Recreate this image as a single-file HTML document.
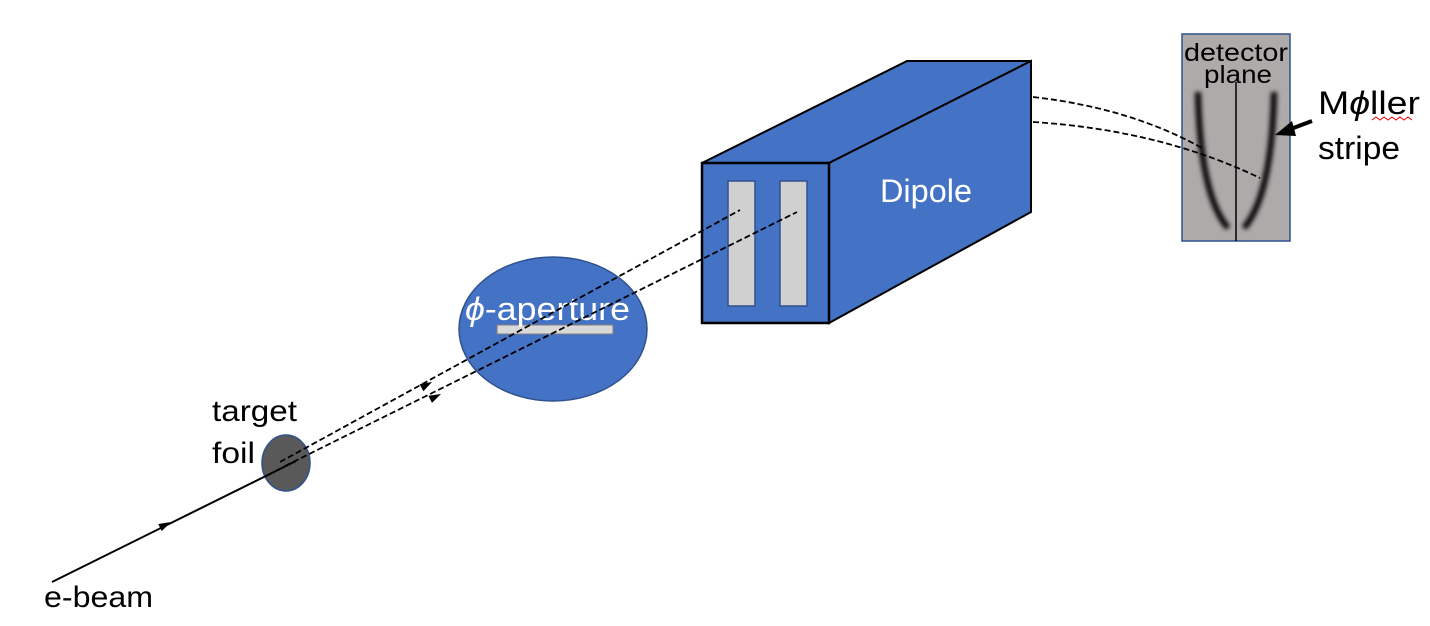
<!DOCTYPE html>
<html><head><meta charset="utf-8"><style>
html,body{margin:0;padding:0;background:#fff;}
svg{display:block;font-family:"Liberation Sans","DejaVu Sans",sans-serif;}
</style></head><body>
<svg width="1430" height="626" viewBox="0 0 1430 626">
<defs>
<filter id="blur" x="-50%" y="-20%" width="200%" height="140%"><feGaussianBlur stdDeviation="2.5"/></filter>
<clipPath id="detclip"><rect x="1182" y="34" width="108" height="207"/></clipPath>
</defs>

<!-- target foil -->
<ellipse cx="286" cy="463" rx="24" ry="28" fill="#595959" stroke="#2f528f" stroke-width="1.5"/>
<text x="212" y="421" font-size="30" fill="#000" textLength="85" lengthAdjust="spacingAndGlyphs">target</text>
<text x="212" y="463" font-size="30" fill="#000" textLength="43" lengthAdjust="spacingAndGlyphs">foil</text>

<!-- e-beam -->
<g>
<line x1="52" y1="582" x2="296" y2="461" stroke="#000" stroke-width="2"/>
<path d="M171,522 L161.8,531 L158.2,524 z" fill="#000"/>
</g>
<text x="44" y="607" font-size="30" fill="#000" textLength="109" lengthAdjust="spacingAndGlyphs">e-beam</text>

<!-- phi aperture -->
<ellipse cx="553" cy="329" rx="94" ry="72" fill="#4472c4" stroke="#2f528f" stroke-width="1.5"/>
<rect x="497" y="325" width="116" height="9" fill="#d9d9d9" stroke="#7f7f7f" stroke-width="1"/>
<text x="465" y="320" font-size="32" fill="#fff" textLength="165" lengthAdjust="spacingAndGlyphs"><tspan font-style="italic">ϕ</tspan>-aperture</text>

<!-- dipole -->
<g>
<polygon points="702,163 907,61 1031,61 829,163" fill="#4472c4" stroke="#000" stroke-width="2"/>
<polygon points="829,163 1031,61 1031,212 829,323" fill="#4472c4" stroke="#000" stroke-width="2"/>
<rect x="702" y="163" width="127" height="160" fill="#4472c4" stroke="#000" stroke-width="2.5"/>
<rect x="728" y="181" width="27" height="125" fill="#d0d0d0" stroke="#2f528f" stroke-width="1.5"/>
<rect x="780" y="181" width="27" height="125" fill="#d0d0d0" stroke="#2f528f" stroke-width="1.5"/>
</g>
<text x="880" y="202" font-size="32" fill="#fff" textLength="92" lengthAdjust="spacingAndGlyphs">Dipole</text>

<!-- detector -->
<g>
<rect x="1182" y="34" width="108" height="207" fill="#aeaaaa" stroke="#2f528f" stroke-width="1.5"/>
<g clip-path="url(#detclip)">
<path d="M1198,92 Q1200,195 1228,228" stroke="#000" stroke-width="6" fill="none" filter="url(#blur)"/>
<path d="M1274,92 Q1272,195 1244,228" stroke="#000" stroke-width="6" fill="none" filter="url(#blur)"/>
</g>
<line x1="1236" y1="82" x2="1236" y2="241" stroke="#000" stroke-width="1.5"/>
</g>
<text x="1236" y="61" font-size="25" text-anchor="middle" fill="#000" textLength="104" lengthAdjust="spacingAndGlyphs">detector</text>
<text x="1238" y="83" font-size="25" text-anchor="middle" fill="#000" textLength="68" lengthAdjust="spacingAndGlyphs">plane</text>

<!-- scattered trajectories -->
<g stroke="#000" stroke-width="1.8" stroke-dasharray="6,3" fill="none">
<line x1="280" y1="462" x2="740" y2="210"/>
<line x1="285" y1="466" x2="797" y2="212"/>
<path d="M1033,97 Q1130,108 1202,148"/>
<path d="M1033,122 Q1160,130 1260,178"/>
</g>
<path d="M432,382 L423.4,391.3 L419.6,384.3 z" fill="#000"/>
<path d="M441,394 L432,402.9 L428.4,395.7 z" fill="#000"/>

<text x="1318" y="114" font-size="32" fill="#000" textLength="102" lengthAdjust="spacingAndGlyphs">M<tspan font-style="italic">ϕ</tspan>ller</text>
<path d="M1372,120 l4,-3 l4,3 l4,-3 l4,3 l4,-3 l4,3 l4,-3 l4,3 l4,-3 l4,3" stroke="#e00" stroke-width="1" fill="none"/>
<text x="1318" y="159" font-size="32" fill="#000" textLength="82" lengthAdjust="spacingAndGlyphs">stripe</text>
<line x1="1312" y1="121" x2="1288" y2="130" stroke="#000" stroke-width="4"/>
<path d="M1275,135 L1292,121 L1296,136 z" fill="#000"/>
</svg>
</body></html>
